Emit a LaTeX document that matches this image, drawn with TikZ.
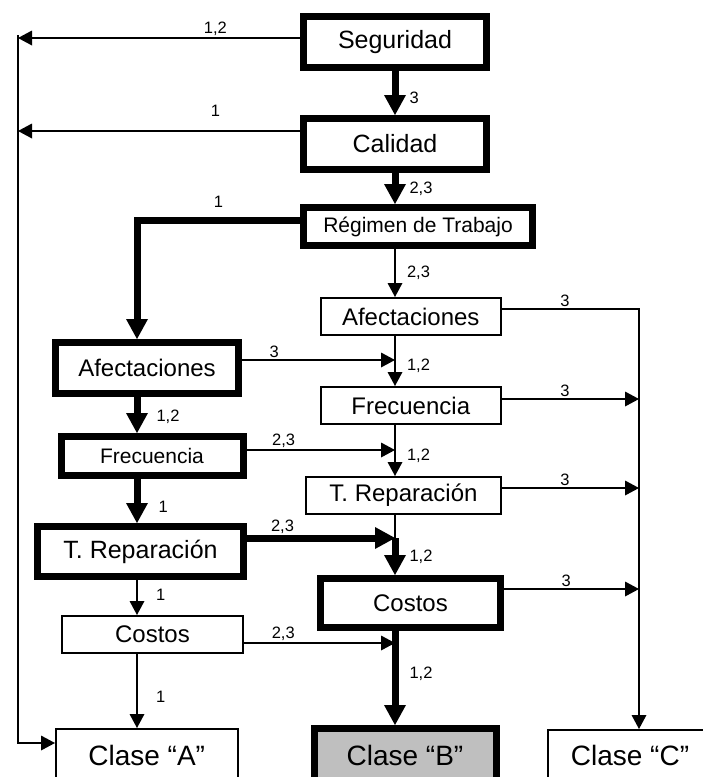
\documentclass[tikz,border=0pt]{standalone}
\usepackage{fontspec}
\setmainfont{Liberation Sans}
\usetikzlibrary{arrows.meta}
\newcommand\fsize[1]{\fontsize{#1}{#1}\selectfont}
\tikzset{
  box/.style={draw, line width=2pt, inner sep=0pt, font=\fsize{24}},
  bbox/.style={box, line width=7pt},
  arr/.style={line width=2pt, -{Triangle[length=14pt,width=15pt,line width=0pt]}},
  thickarr/.style={line width=7pt, -{Triangle[length=20pt,width=22pt,line width=0pt]}},
  lbl/.style={font=\fsize{16.5}, inner sep=1pt},
}
\begin{document}
\begin{tikzpicture}[x=1pt, y=-1pt]
    \useasboundingbox (0,0) rectangle (702,777);

    % cajas
    \node[bbox, minimum width=183pt, minimum height=51pt, font=\fsize{25}] (seg) at (395,42) {Seguridad};
    \node[bbox, minimum width=183pt, minimum height=51pt, font=\fsize{25}] (cal) at (395,144) {Calidad};
    \node[bbox, minimum width=229pt, minimum height=38pt, font=\fsize{21}] (reg) at (418,226.5) {Régimen de Trabajo};
    \node[box, minimum width=180.5pt, minimum height=37pt] (afR) at (410.75,316.5) {Afectaciones};
    \node[bbox, minimum width=183pt, minimum height=51pt] (afL) at (147,368) {Afectaciones};
    \node[box, minimum width=180.5pt, minimum height=37pt] (frR) at (410.75,405.5) {Frecuencia};
    \node[bbox, minimum width=182pt, minimum height=39pt, font=\fsize{21}] (frL) at (152,456) {Frecuencia};
    \node[box, minimum width=195pt, minimum height=37pt] (trR) at (403.5,495.5) {T. Reparación};
    \node[bbox, minimum width=206pt, minimum height=50pt, font=\fsize{25}] (trL) at (140.5,551.5) {T. Reparación};
    \node[bbox, minimum width=180pt, minimum height=49pt] (coR) at (410.5,603) {Costos};
    \node[box, minimum width=181pt, minimum height=37pt] (coL) at (152.5,634.5) {Costos};
    \node[box, minimum width=181.5pt, minimum height=52pt, font=\fsize{28}] (clA) at (146.75,755) {Clase “A”};
    \node[bbox, fill=gray!50, minimum width=182pt, minimum height=53pt, font=\fsize{28}] (clB) at (405,755) {Clase “B”};
    \node[box, minimum width=164pt, minimum height=50pt, font=\fsize{28}] (clC) at (630,755) {Clase “C”};

    \coordinate (lTop) at (18,35);
    \coordinate (lBot) at (18,743);
    \coordinate (colL) at (137,0);
    \coordinate (colR) at (395,0);
    \coordinate (rCol) at (639,0);

    % salidas hacia la izquierda
    \draw[arr] (seg.west) ++(0,-4) coordinate (s1) -- (s1 -| lTop) node[lbl, pos=0.3, above] {1,2};
    \draw[arr] (cal.west) ++(0,-13) coordinate (c1) -- (c1 -| lTop) node[lbl, pos=0.3, above=13pt] {1};
    \draw[arr] (lTop) -- (lBot) -- (clA.west |- lBot);

    % columna central
    \draw[thickarr] (seg.south) -- (cal.north) node[lbl, pos=0.6, right=10pt] {3};
    \draw[thickarr] (cal.south) -- (cal.south |- reg.north) node[lbl, pos=0.5, right=10pt] {2,3};
    \draw[arr] (reg.south -| colR) -- (colR |- afR.north) node[lbl, pos=0.5, right=10pt] {2,3};
    \draw[arr] (afR.south -| colR) -- (colR |- frR.north) node[lbl, pos=0.6, right=10pt] {1,2};
    \draw[arr] (frR.south -| colR) -- (colR |- trR.north) node[lbl, pos=0.6, right=10pt] {1,2};
    \draw[line width=2pt] (trR.south -| colR) -- (colR |- 0,538);
    \draw[thickarr] (colR |- 0,538) -- (colR |- coR.north) node[lbl, pos=0.5, right=10pt] {1,2};
    \draw[thickarr] (coR.south -| colR) -- (colR |- clB.north) node[lbl, pos=0.45, right=10pt] {1,2};

    % columna izquierda
    \draw[thickarr] (reg.west) ++(0,-6.5) coordinate (r1) -- node[lbl, pos=0.5, above=8pt] {1} (r1 -| colL) -- (colL |- afL.north);
    \draw[thickarr] (afL.south -| colL) -- (colL |- frL.north) node[lbl, pos=0.55, right=15pt] {1,2};
    \draw[thickarr] (frL.south -| colL) -- (colL |- trL.north) node[lbl, pos=0.64, right=17pt] {1};
    \draw[arr] (trL.south -| colL) -- (colL |- coL.north) node[lbl, pos=0.43, right=17pt] {1};
    \draw[arr] (coL.south -| colL) -- (colL |- clA.north) node[lbl, pos=0.58, right=17pt] {1};

    % cruces izquierda -> centro
    \draw[arr] (afL.east) ++(0,-8) coordinate (a2) -- (a2 -| colR) node[lbl, pos=0.21, above] {3};
    \draw[arr] (frL.east) ++(0,-6) coordinate (f2) -- (f2 -| colR) node[lbl, pos=0.25, above] {2,3};
    \draw[thickarr] (trL.east) ++(0,-13.5) coordinate (t2) -- (t2 -| colR) node[lbl, pos=0.24, above] {2,3};
    \draw[arr] (coL.east) ++(0,8.5) coordinate (k2) -- (k2 -| colR) node[lbl, pos=0.26, above] {2,3};

    % centro -> Clase C
    \draw[arr] (afR.east) ++(0,-7.5) coordinate (a1) -- node[lbl, pos=0.46, above] {3} (a1 -| rCol) -- (rCol |- clC.north);
    \draw[arr] (frR.east) ++(0,-6.5) coordinate (f1) -- (f1 -| rCol) node[lbl, pos=0.46, above] {3};
    \draw[arr] (trR.east) ++(0,-7.5) coordinate (t1) -- (t1 -| rCol) node[lbl, pos=0.46, above] {3};
    \draw[arr] (coR.east) ++(0,-14) coordinate (k1) -- (k1 -| rCol) node[lbl, pos=0.46, above] {3};
\end{tikzpicture}
\end{document}
